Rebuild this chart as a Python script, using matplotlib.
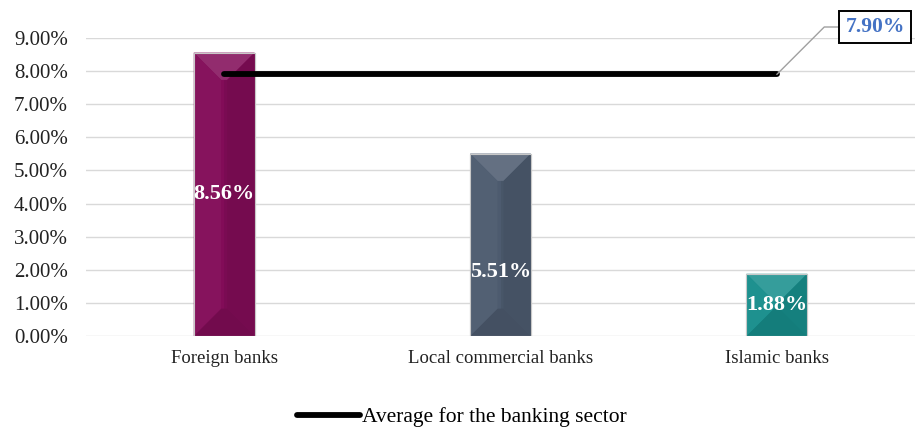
import matplotlib
matplotlib.use("Agg")
import matplotlib.pyplot as plt
from matplotlib.patches import Polygon
import numpy as np

categories = ["Foreign banks", "Local commercial banks", "Islamic banks"]
values = [8.56, 5.51, 1.88]
label_pos = [4.28, 1.93, 0.94]
average = 7.90
bar_colors = ["#820c58", "#4d5b6f", "#178e8c"]
yticks = [0, 1, 2, 3, 4, 5, 6, 7, 8, 9]

plt.rcParams['font.family'] = ['Liberation Serif', 'DejaVu Serif']

W, H = 915, 434
fig = plt.figure(figsize=(W/100, H/100), dpi=100)
ax_l, ax_r, ax_b, ax_t = 86/W, 915/W, (H-336)/H, (H-38)/H
ax = fig.add_axes([ax_l, ax_b, ax_r-ax_l, ax_t-ax_b])

x = np.arange(len(categories))
bw = 0.22
ax.set_xlim(-0.5, 2.5)
ax.set_ylim(0, 9)
for t in yticks:
    ax.axhline(t, color="#d9d9d9", lw=1.0, zorder=0)

px_x = (ax_r-ax_l)*W/3.0
px_y = (ax_t-ax_b)*H/9.0

def shade(c, f):
    c = np.array(matplotlib.colors.to_rgb(c))
    if f > 0:
        return tuple(c + (1-c)*f)
    return tuple(c*(1+f))

for xi, v, col in zip(x, values, bar_colors):
    ax.bar(xi, v, width=bw, color=col, edgecolor="#c8c8c8", lw=0.8, zorder=2)
    hw_px = bw/2*px_x
    h_px = v*px_y
    d_px = min(hw_px*0.9, h_px/2)
    dy = d_px/px_y
    dx = d_px/px_x
    l, r = xi-bw/2, xi+bw/2
    ax.add_patch(Polygon([(xi, 0), (r, 0), (r, v), (xi, v)],
                         closed=True, color=shade(col, -0.06), lw=0, zorder=2.1))
    ax.add_patch(Polygon([(l, v), (r, v), (r-dx, v-dy), (l+dx, v-dy)], closed=True,
                         color=shade(col, 0.13), lw=0, zorder=2.2))
    ax.add_patch(Polygon([(l, 0), (r, 0), (r-dx, dy), (l+dx, dy)], closed=True,
                         color=shade(col, -0.12), lw=0, zorder=2.2))
    ax.add_patch(Polygon([(l, 0), (l+dx, dy), (l+dx, v-dy), (l, v)], closed=True,
                         color=shade(col, 0.03), lw=0, zorder=2.2))
    ax.add_patch(Polygon([(r, 0), (r-dx, dy), (r-dx, v-dy), (r, v)], closed=True,
                         color=shade(col, -0.1), lw=0, zorder=2.2))
    ax.bar(xi, v, width=bw, color="none", edgecolor="#c8c8c8", lw=0.8, zorder=2.3)

for xi, v, lp in zip(x, values, label_pos):
    ax.text(xi, lp, f"{v:.2f}%", ha="center", va="center", color="white",
            fontsize=16, fontweight="bold", zorder=4)

ln, = ax.plot([x[0], x[-1]], [average, average], color="black", lw=4.2,
              solid_capstyle="round", zorder=3, label="Average for the banking sector")

ax.annotate(f"{average:.2f}%", xy=(x[-1], average), xycoords="data",
            xytext=(875/W, (H-27)/H), textcoords="figure fraction",
            ha="center", va="center", color="#4472c4", fontsize=15.5, fontweight="bold",
            bbox=dict(boxstyle="square,pad=0.3", fc="white", ec="black", lw=1.4),
            arrowprops=dict(arrowstyle="-", color="#a0a0a0", lw=1.0,
                            connectionstyle="angle,angleA=0,angleB=45,rad=0",
                            shrinkA=0, shrinkB=0),
            zorder=5, annotation_clip=False)

ax.set_yticks(yticks)
ax.set_yticklabels([f"{t:.2f}%" for t in yticks], fontsize=15, color="#222222")
ax.set_xticks(x)
ax.set_xticklabels(categories, fontsize=13.5, color="#222222")
ax.tick_params(axis="both", length=0)
ax.tick_params(axis="x", pad=10)
ax.tick_params(axis="y", pad=13)
for s in ax.spines.values():
    s.set_visible(False)

leg = fig.legend(handles=[ln], loc="center", bbox_to_anchor=(462/W, (H-417)/H),
                 frameon=False, fontsize=15.5, handlelength=2.9, handletextpad=0.1)

fig.savefig("out.png", dpi=100)
